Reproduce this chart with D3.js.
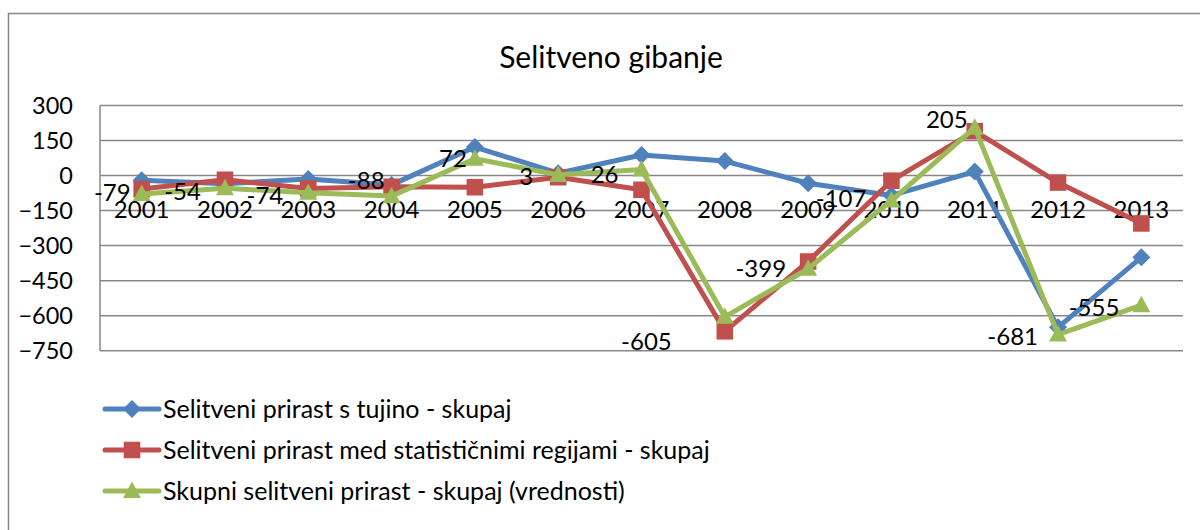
<!DOCTYPE html>
<html>
<head>
<meta charset="utf-8">
<script src="https://cdn.jsdelivr.net/npm/d3@7"></script>
<style>
  html, body { margin: 0; padding: 0; background: #fff; }
  svg { display: block; font-family: Lato, "Open Sans", sans-serif; }
</style>
</head>
<body>
<svg id="chart" width="1200" height="530"></svg>
<script>
// ---- data ----
const title = "Selitveno gibanje";
const years = ["2001","2002","2003","2004","2005","2006","2007","2008","2009","2010","2011","2012","2013"];
const yTicks = [300, 150, 0, -150, -300, -450, -600, -750];
const seriesNames = [
  "Selitveni prirast s tujino - skupaj",
  "Selitveni prirast med statističnimi regijami - skupaj",
  "Skupni selitveni prirast - skupaj (vrednosti)"
];
const tujina = [-20, -35, -15, -40, 122, 10, 88, 62, -33, -85, 17, -650, -350];
const regije = [-58, -18, -55, -48, -50, -7, -61, -667, -368, -22, 190, -30, -205];
const skupni = [-79, -54, -74, -88, 72, 3, 26, -605, -399, -107, 205, -681, -555];

// ---- layout / style ----
const colors = ["#4F81BD", "#C0504D", "#9BBB59"];
const markers = ["diamond", "square", "triangle"];
// label nudges (right edge dx, centre dy) relative to the point
const labelNudge = [[-11,-1],[-24,3],[-25,3],[-7,-16],[-8,0],[-25,2],[-23,5],[-53,25],[-22,0],[-25,-2],[-7,-8],[-20,2],[-22,2]];

const svg = d3.select("#chart");
const plot = { left: 100, right: 1183, top: 105.5, bottom: 350.7 };
const gridColor = "#878787";

// outer border
svg.append("rect").attr("x", 8.5).attr("y", 13.5).attr("width", 1200).attr("height", 540)
  .attr("fill", "none").attr("stroke", gridColor).attr("stroke-width", 1.5);

// title
svg.append("text").attr("x", 611).attr("y", 68).attr("text-anchor", "middle")
  .attr("font-size", 30).attr("fill", "#000").text(title);

const x = d3.scaleBand().domain(years).range([plot.left, plot.right]).padding(0);
const cx = d => x(d) + x.bandwidth() / 2;
const y = d3.scaleLinear().domain([-750, 300]).range([plot.bottom, plot.top]);

// gridlines
svg.append("g").selectAll("line").data(yTicks).join("line")
  .attr("x1", plot.left).attr("x2", plot.right)
  .attr("y1", d => y(d)).attr("y2", d => y(d))
  .attr("stroke", gridColor).attr("stroke-width", 1.5);

// vertical axis line
svg.append("line").attr("x1", plot.left).attr("x2", plot.left)
  .attr("y1", plot.top).attr("y2", plot.bottom)
  .attr("stroke", gridColor).attr("stroke-width", 1.5);

// y axis labels
const yAxis = d3.axisLeft(y).tickValues(yTicks).tickSize(0).tickPadding(0).tickFormat(d3.format("d"));
const yg = svg.append("g").attr("transform", `translate(73,0)`).call(yAxis);
yg.select(".domain").remove();
yg.selectAll("text").attr("font-size", 23.5).attr("font-family", "Lato").attr("fill", "#000").attr("dy", "0.35em");

// x axis labels (placed below the zero line)
const xAxis = d3.axisBottom(x).tickSize(0).tickPadding(0);
const xg = svg.append("g").attr("transform", `translate(0,${y(0) + 34})`).call(xAxis);
xg.select(".domain").remove();
xg.selectAll("text").attr("font-size", 24).attr("font-family", "Lato").attr("fill", "#000").attr("dy", "0.35em");

// marker shapes
function markerPath(type, s) {
  if (type === "diamond") return `M0,${-s}L${s},0L0,${s}L${-s},0Z`;
  if (type === "square") { const h = s * 0.92; return `M${-h},${-h}H${h}V${h}H${-h}Z`; }
  return `M0,${-s * 1.05}L${s},${s * 0.78}L${-s},${s * 0.78}Z`;
}

const allSeries = [tujina, regije, skupni];
const line = d3.line().x((d, i) => cx(years[i])).y(d => y(d));

allSeries.forEach((vals, si) => {
  const g = svg.append("g");
  g.append("path").datum(vals).attr("d", line)
    .attr("fill", "none").attr("stroke", colors[si]).attr("stroke-width", 5)
    .attr("stroke-linejoin", "round");
  g.selectAll("path.m").data(vals).join("path").attr("class", "m")
    .attr("transform", (d, i) => `translate(${cx(years[i])},${y(d)})`)
    .attr("d", markerPath(markers[si], 9))
    .attr("fill", colors[si]);
});

// data labels (total series)
svg.append("g").selectAll("text").data(skupni).join("text")
  .attr("x", (d, i) => cx(years[i]) + labelNudge[i][0])
  .attr("y", (d, i) => y(d) + labelNudge[i][1])
  .attr("dy", "0.35em").attr("text-anchor", "end")
  .attr("font-size", 24).attr("fill", "#000")
  .text(d => d);

// legend
const legendY = [409, 450, 491];
const lg = svg.append("g");
seriesNames.forEach((name, i) => {
  lg.append("line").attr("x1", 105).attr("x2", 159).attr("y1", legendY[i]).attr("y2", legendY[i])
    .attr("stroke", colors[i]).attr("stroke-width", 5).attr("stroke-linecap", "round");
  lg.append("path").attr("transform", `translate(132,${legendY[i]})`)
    .attr("d", markerPath(markers[i], 9)).attr("fill", colors[i]);
  lg.append("text").attr("x", 163).attr("y", legendY[i]).attr("dy", "0.35em")
    .attr("font-size", 25).attr("fill", "#000").text(name);
});
</script>
</body>
</html>
